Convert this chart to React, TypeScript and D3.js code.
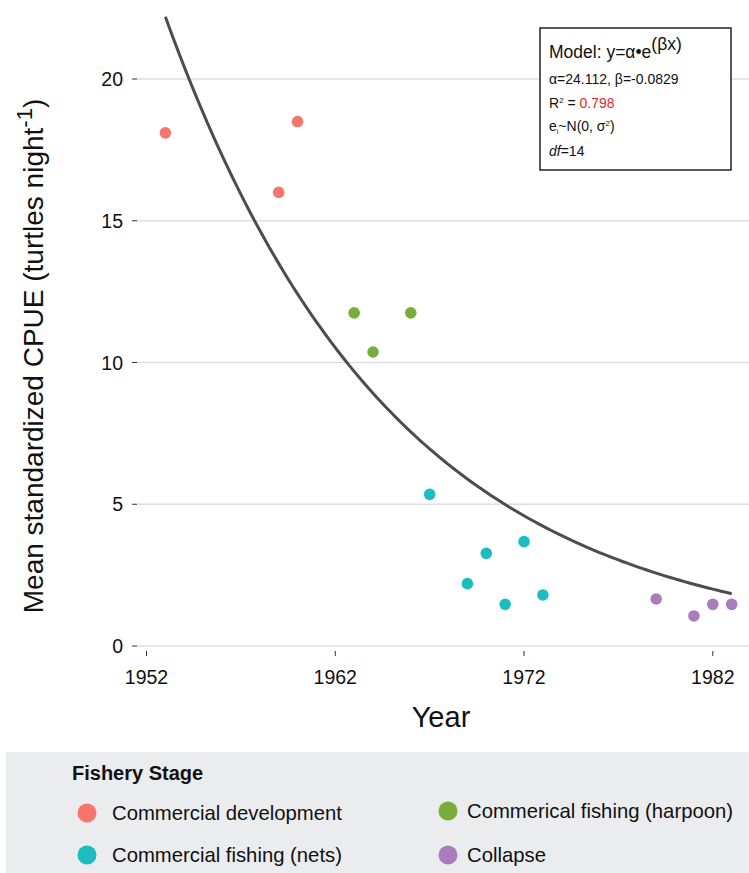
import * as d3 from "d3"

// fishery stages
const stages = [
  "Commercial development",
  "Commerical fishing (harpoon)",
  "Commercial fishing (nets)",
  "Collapse",
]
const stageColors = ["#F4766D", "#77AD3C", "#1BBDC1", "#A87DBA"]

// observations: year, CPUE, stage index
const years = [1953, 1959, 1960, 1963, 1964, 1966, 1967, 1969, 1970, 1971, 1972, 1973, 1979, 1981, 1982, 1983]
const cpue = [18.1, 16.0, 18.5, 11.75, 10.37, 11.75, 5.35, 2.2, 3.27, 1.47, 3.68, 1.8, 1.66, 1.06, 1.47, 1.47]
const stageOf = [0, 0, 0, 1, 1, 1, 2, 2, 2, 2, 2, 2, 3, 3, 3, 3]

const xTicks = [1952, 1962, 1972, 1982]
const yTicks = [0, 5, 10, 15, 20]

// fitted model y = alpha * exp(beta * (year - 1952))
const alpha = 24.112
const beta = -0.0829

const W = 749
const H = 873
const font = "'Liberation Sans', Arial, sans-serif"

export default function App() {
  const x = d3.scaleLinear().domain([1952, 1982]).range([146.5, 712.8])
  const y = d3.scaleLinear().domain([0, 20]).range([646, 79])

  const fitYears = d3.range(1953, 1983.001, 0.25)
  const line = d3.line<number>()
    .x(d => x(d))
    .y(d => y(alpha * Math.exp(beta * (d - 1952))))

  const legendPos = [
    { cx: 87, cy: 813, tx: 112 },
    { cx: 448, cy: 811, tx: 467 },
    { cx: 87, cy: 855, tx: 112 },
    { cx: 448, cy: 855, tx: 467 },
  ]

  return (
    <svg width={W} height={H} style={{ position: "absolute", left: 0, top: 0, background: "#fff" }} fontFamily={font}>
      {/* grid */}
      {yTicks.map(t => (
        <g key={t}>
          <line x1={137} x2={W} y1={y(t)} y2={y(t)} stroke="#dedede" strokeWidth={1.3} />
          <line x1={132} x2={137} y1={y(t)} y2={y(t)} stroke="#333" strokeWidth={1} />
          <text x={123} y={y(t)} dy="0.36em" textAnchor="end" fontSize={19.5} fill="#111">{t}</text>
        </g>
      ))}
      {xTicks.map(t => (
        <g key={t}>
          <line x1={x(t)} x2={x(t)} y1={651} y2={656} stroke="#333" strokeWidth={1} />
          <text x={x(t)} y={684} textAnchor="middle" fontSize={19.5} fill="#111">{t}</text>
        </g>
      ))}

      {/* fitted curve */}
      <path d={line(fitYears) ?? ""} fill="none" stroke="#4d4d4d" strokeWidth={3} />

      {/* points */}
      {years.map((yr, i) => (
        <circle key={i} cx={x(yr)} cy={y(cpue[i])} r={5.8} fill={stageColors[stageOf[i]]} />
      ))}

      {/* axis titles */}
      <text x={441} y={727} textAnchor="middle" fontSize={29} fill="#111">Year</text>
      <text transform="translate(43,356) rotate(-90)" textAnchor="middle" fontSize={28} fill="#111">
        Mean standardized CPUE (turtles night<tspan dy={-11} fontSize={22}>-1</tspan><tspan dy={11}>)</tspan>
      </text>

      {/* model box */}
      <rect x={540} y={28} width={191} height={142} fill="#fff" stroke="#222" strokeWidth={1.5} />
      <text x={549} y={58} fontSize={17.5} fill="#111">
        Model: y=α•e<tspan dy={-8} fontSize={17.5}>(βx)</tspan>
      </text>
      <text x={549} y={84} fontSize={14} fill="#111">α=24.112, β=-0.0829</text>
      <text x={549} y={108} fontSize={14} fill="#111">
        R<tspan dy={-5} fontSize={8}>2</tspan><tspan dy={5}> = </tspan><tspan fill="#e8262a">0.798</tspan>
      </text>
      <text x={549} y={131} fontSize={14} fill="#111">
        e<tspan dy={3} fontSize={7}>i</tspan><tspan dy={-3}>~N(0, σ</tspan><tspan dy={-5} fontSize={8}>2</tspan><tspan dy={5}>)</tspan>
      </text>
      <text x={549} y={156} fontSize={14} fill="#111">
        <tspan fontStyle="italic">df</tspan>=14
      </text>

      {/* legend */}
      <rect x={6} y={752} width={W - 6} height={H - 752} fill="#ebecee" />
      <text x={72} y={780} fontSize={20} fontWeight="bold" fill="#111">Fishery Stage</text>
      {stages.map((s, i) => (
        <g key={s}>
          <circle cx={legendPos[i].cx} cy={legendPos[i].cy} r={9.5} fill={stageColors[i]} />
          <text x={legendPos[i].tx} y={legendPos[i].cy} dy="0.36em" fontSize={20.3} fill="#111">{s}</text>
        </g>
      ))}
    </svg>
  )
}
